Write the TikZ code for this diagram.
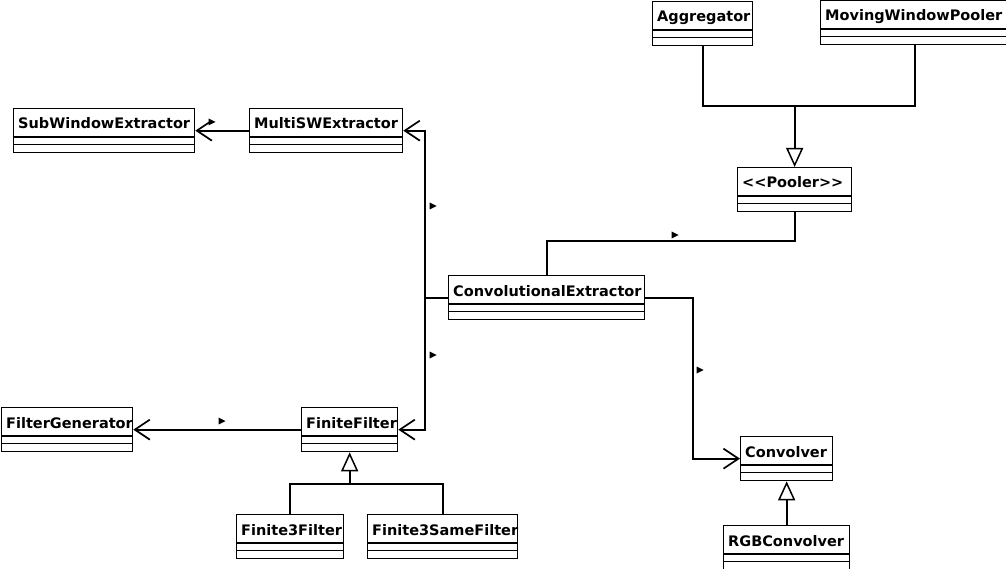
\documentclass[tikz,border=0pt]{standalone}
\usepackage{fontspec}
\setmainfont{DejaVu Sans}
\usetikzlibrary{arrows.meta,calc}
\tikzset{
  cls/.style={draw=black, line width=1.3pt, fill=white, inner sep=0pt, anchor=north west},
  sepline/.style={line width=1.3pt},
  conn/.style={line width=1.8pt},
  nav/.style={conn, -{Straight Barb[length=15pt, width=20pt, line width=1.7pt]}},
  gen/.style={conn, -{Triangle[open, length=19pt, width=17pt, line width=1.5pt, fill=white]}},
  clsname/.style={anchor=base west, inner sep=0pt, font=\fontsize{14.5pt}{16pt}\selectfont\bfseries},
}
\newcommand\umlclass[6]{%
  \node[cls, minimum width={(#4-#2)*1pt}, minimum height={(#5-#3)*1pt}] (#1) at (#2pt,-#3pt) {};
  \draw[sepline] ($(#1.north west)+(0,-29pt)$) -- ($(#1.north east)+(0,-29pt)$);
  \draw[sepline] ($(#1.north west)+(0,-36.5pt)$) -- ($(#1.north east)+(0,-36.5pt)$);
  \begin{scope}
    \clip (#1.north west) rectangle (#1.south east);
    \node[clsname] (#1-name) at ($(#1.north west)+(5pt,-21pt)$) {#6};
  \end{scope}
}
\newcommand\dirmark[2]{%
  \fill (#1pt-3.5pt,-#2pt+3.5pt) -- ++(7pt,-3.5pt) -- ++(-7pt,-3.5pt) -- cycle;
}
\begin{document}
\begin{tikzpicture}
\useasboundingbox (0,0) rectangle (1006pt,-569pt);

\umlclass{swe}{13}{108}{194}{152}{SubWindowExtractor}
\umlclass{msw}{249}{108}{402}{152}{MultiSWExtractor}
\umlclass{agg}{652}{1}{752}{45}{Aggregator}
\umlclass{mwp}{820}{0}{1008}{44}{MovingWindowPooler}
\umlclass{pool}{737}{167}{851}{211}{<{}<Pooler>{}>}
\umlclass{conv}{448}{275}{644}{319}{ConvolutionalExtractor}
\umlclass{fg}{1}{407}{132}{451}{FilterGenerator}
\umlclass{ff}{301}{407}{397}{451}{FiniteFilter}
\umlclass{fthree}{236}{514}{343}{558}{Finite3Filter}
\umlclass{fsame}{367}{514}{517}{558}{Finite3SameFilter}
\umlclass{cvr}{740}{436}{832}{480}{Convolver}
\umlclass{rgb}{723}{525}{849}{569}{RGBConvolver}

% associations
\draw[nav] (msw.west) -- (swe.east);
\coordinate (cj) at ([xshift=-23pt]conv.west);
\draw[conn] (conv.west) -- (cj);
\draw[nav] (cj) |- (msw.east);
\draw[nav] (cj) |- (ff.east);
\draw[conn] (conv.north) -- ++(0,34pt) -| (pool.south);
\draw[nav] (conv.east) -- ++(48pt,0) |- (cvr.west);
\draw[nav] (ff.west) -- (fg.east);

% generalizations
\coordinate (pj) at ([yshift=-60pt]pool.north |- agg.south);
\draw[conn] (agg.south) |- (pj);
\draw[conn] (mwp.south) |- (pj);
\draw[gen] (pj) -- (pool.north);
\coordinate (fj) at ([yshift=-32pt]ff.south);
\draw[conn] (fthree.north) |- (fj);
\draw[conn] (fsame.north) |- (fj);
\draw[gen] (fj) -- (ff.south);
\draw[gen] (rgb.north) -- (cvr.south);

% direction marks
\dirmark{212}{122}
\dirmark{433}{206}
\dirmark{433}{355}
\dirmark{675}{235}
\dirmark{700}{370}
\dirmark{222}{421}
\end{tikzpicture}
\end{document}
